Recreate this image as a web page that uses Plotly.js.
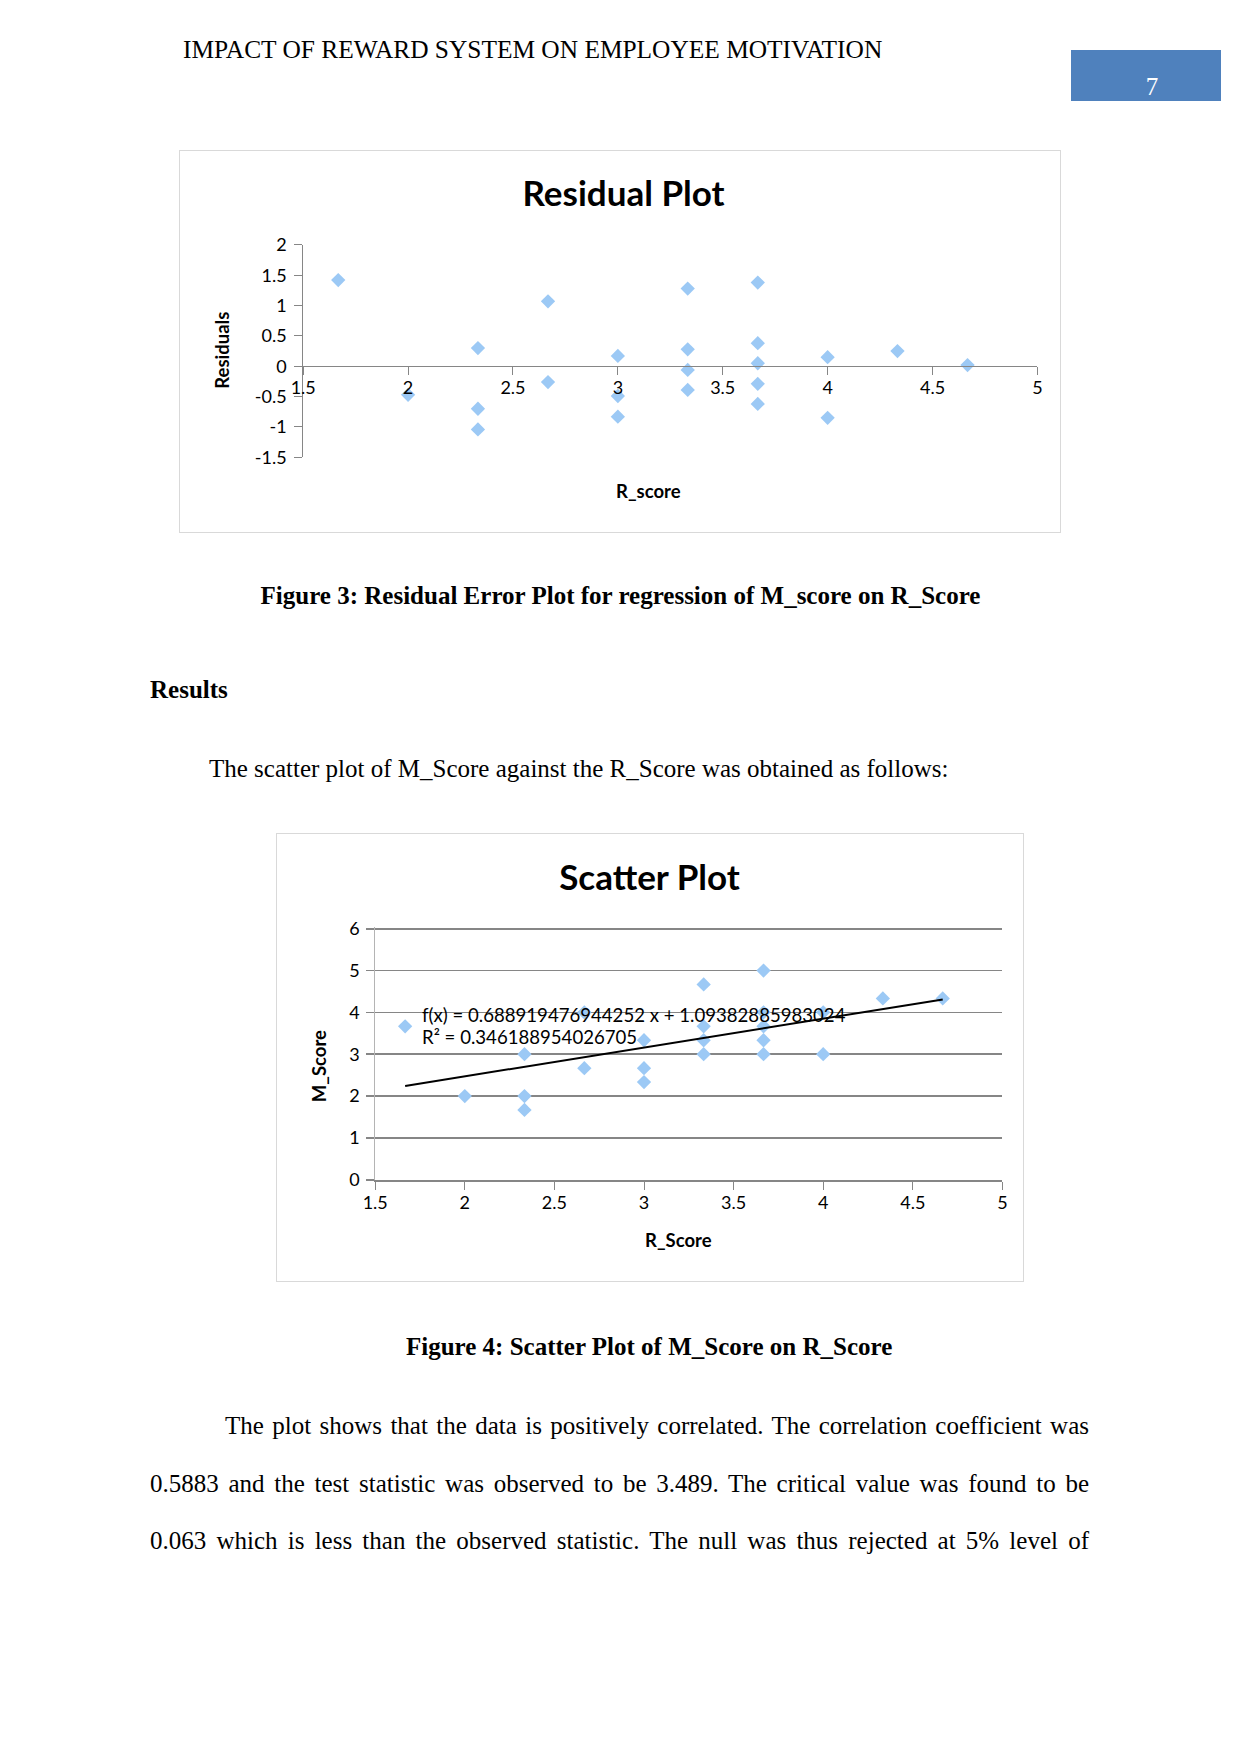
<!DOCTYPE html>
<html><head><meta charset="utf-8">
<script src="https://cdn.plot.ly/plotly-3.0.1.min.js"></script>
<style>
body{margin:0;background:#fff;}
#page{position:relative;width:1241px;height:1754px;background:#fff;font-family:"Liberation Serif","Times New Roman",serif;color:#000;overflow:hidden;}
.t{position:absolute;white-space:nowrap;font-size:25px;line-height:30px;}
.b{font-weight:bold;}
.j{text-align:justify;text-align-last:justify;white-space:normal;}
.frame{position:absolute;border:1px solid #d9d9d9;box-sizing:border-box;background:#fff;}
.chart{position:absolute;}
</style></head>
<body><div id="page">
<div class="t" style="left:183px;top:34px;font-size:25.4px;">IMPACT OF REWARD SYSTEM ON EMPLOYEE MOTIVATION</div>
<div style="position:absolute;left:1071px;top:50px;width:150px;height:51px;background:#4F81BD;"></div>
<div class="t" style="left:1139px;top:72px;width:26px;text-align:center;color:#fff;">7</div>

<div class="frame" style="left:179px;top:150px;width:882px;height:383px;"></div>
<div id="res" class="chart" style="left:179px;top:150px;width:882px;height:383px;"></div>

<div class="t b" style="left:0;top:581px;width:1241px;text-align:center;">Figure 3: Residual Error Plot for regression of M_score on R_Score</div>
<div class="t b" style="left:150px;top:675px;">Results</div>
<div class="t" style="left:209px;top:754px;">The scatter plot of M_Score against the R_Score was obtained as follows:</div>

<div class="frame" style="left:276px;top:833px;width:748px;height:449px;"></div>
<div id="sca" class="chart" style="left:276px;top:833px;width:748px;height:449px;"></div>

<div class="t b" style="left:406px;top:1332px;">Figure 4: Scatter Plot of M_Score on R_Score</div>
<div class="t j" style="left:225px;top:1411px;width:864px;">The plot shows that the data is positively correlated. The correlation coefficient was</div>
<div class="t j" style="left:150px;top:1469px;width:939px;">0.5883 and the test statistic was observed to be 3.489. The critical value was found to be</div>
<div class="t j" style="left:150px;top:1526px;width:939px;">0.063 which is less than the observed statistic. The null was thus rejected at 5% level of</div>
</div>
<script>
// ---- data ----
const rScore = [1.667, 2, 2.333, 2.333, 2.333, 2.667, 2.667, 3, 3, 3, 3.333, 3.333, 3.333, 3.333, 3.667, 3.667, 3.667, 3.667, 3.667, 4, 4, 4.333, 4.667];
const mScore = [3.667, 2, 3, 2, 1.667, 4, 2.667, 3.333, 2.667, 2.333, 4.667, 3.667, 3.333, 3, 5, 4, 3.667, 3.333, 3, 4, 3, 4.333, 4.333];
const residuals = [1.42, -0.47, 0.30, -0.70, -1.04, 1.07, -0.26, 0.17, -0.49, -0.83, 1.28, 0.28, -0.06, -0.39, 1.38, 0.38, 0.05, -0.29, -0.62, 0.15, -0.85, 0.25, 0.02];
const trendX = [1.667, 4.667];
const trendY = [2.24, 4.31];
const xTickVals = [1.5, 2, 2.5, 3, 3.5, 4, 4.5, 5];
const xTickText = ['1.5', '2', '2.5', '3', '3.5', '4', '4.5', '5'];
const resTickVals = [-1.5, -1, -0.5, 0, 0.5, 1, 1.5, 2];
const resTickText = ['-1.5', '-1', '-0.5', '0', '0.5', '1', '1.5', '2'];
const scaTickVals = [0, 1, 2, 3, 4, 5, 6];
const scaTickText = ['0', '1', '2', '3', '4', '5', '6'];
const eqText = 'f(x) = 0.688919476944252 x + 1.09382885983024';
const r2Text = 'R² = 0.346188954026705';

const FONT = 'Lato, "Open Sans", sans-serif';
const MARK = {symbol: 'diamond', size: 11, color: '#9cc9f5', line: {width: 0}};
const TICKFONT = {family: FONT, size: 18, color: '#000'};
const cfg = {staticPlot: true, displayModeBar: false};

// ---- residual plot ----
(function(){
  const W = 882, H = 383;
  const xd = [124.2 / W, 858.4 / W];
  const yd = [1 - 307.3 / H, 1 - 94.9 / H];
  const yr = [-1.5, 2];
  const zeroPos = yd[0] + (0 - yr[0]) / (yr[1] - yr[0]) * (yd[1] - yd[0]);
  const traces = [{x: rScore, y: residuals, type: 'scatter', mode: 'markers', marker: MARK, showlegend: false}];
  const layout = {
    width: W, height: H, margin: {l: 0, r: 0, t: 0, b: 0},
    paper_bgcolor: 'rgba(0,0,0,0)', plot_bgcolor: 'rgba(0,0,0,0)',
    font: {family: FONT, color: '#000', size: 18},
    title: {text: '<b>Residual Plot</b>', font: {family: FONT, size: 35, color: '#000'},
            x: 444.5 / W, xref: 'container', xanchor: 'center', y: 1 - 43.8 / H, yref: 'container', yanchor: 'middle'},
    xaxis: {domain: xd, range: [1.5, 5], anchor: 'free', position: zeroPos,
            tickvals: xTickVals, ticktext: xTickText, ticks: 'outside', ticklen: 8, tickcolor: '#868686',
            ticklabelstandoff: -3,
            showline: true, linecolor: '#868686', linewidth: 1, showgrid: false, zeroline: false,
            tickfont: TICKFONT},
    yaxis: {domain: yd, range: yr, anchor: 'x',
            tickvals: resTickVals, ticktext: resTickText, ticks: 'outside', ticklen: 8, tickcolor: '#868686',
            ticklabelstandoff: 4,
            showline: true, linecolor: '#868686', linewidth: 1, showgrid: false, zeroline: false,
            tickfont: TICKFONT},
    annotations: [
      {text: '<b>Residuals</b>', xref: 'paper', yref: 'paper', x: 42.7 / W, y: 1 - 200 / H, textangle: -90,
       showarrow: false, xanchor: 'center', yanchor: 'middle', font: {family: FONT, size: 18.5, color: '#000'}},
      {text: '<b>R_score</b>', xref: 'paper', yref: 'paper', x: 470 / W, y: 1 - 341 / H,
       showarrow: false, xanchor: 'center', yanchor: 'middle', font: {family: FONT, size: 18.5, color: '#000'}}
    ]
  };
  Plotly.newPlot('res', traces, layout, cfg);
})();

// ---- scatter plot ----
(function(){
  const W = 748, H = 449;
  const yTopVal = 6.03;               // tiny headroom so the gridline at 6 is drawn
  const unit = (346.7 - 95.7) / 6;
  const xd = [99.2 / W, 726.4 / W];
  const yd = [1 - 346.7 / H, 1 - (95.7 - (yTopVal - 6) * unit) / H];
  const traces = [
    {x: rScore, y: mScore, type: 'scatter', mode: 'markers', marker: MARK, showlegend: false},
    {x: trendX, y: trendY, type: 'scatter', mode: 'lines', line: {color: '#000', width: 2}, showlegend: false}
  ];
  const layout = {
    width: W, height: H, margin: {l: 0, r: 0, t: 0, b: 0},
    paper_bgcolor: 'rgba(0,0,0,0)', plot_bgcolor: 'rgba(0,0,0,0)',
    font: {family: FONT, color: '#000', size: 18},
    title: {text: '<b>Scatter Plot</b>', font: {family: FONT, size: 35, color: '#000'},
            x: 373.5 / W, xref: 'container', xanchor: 'center', y: 1 - 44.3 / H, yref: 'container', yanchor: 'middle'},
    xaxis: {domain: xd, range: [1.5, 5], anchor: 'y',
            tickvals: xTickVals, ticktext: xTickText, ticks: 'outside', ticklen: 8, tickcolor: '#868686', tickwidth: 1,
            ticklabelstandoff: -2,
            showline: true, linecolor: '#868686', linewidth: 2, showgrid: false, zeroline: false,
            tickfont: TICKFONT},
    yaxis: {domain: yd, range: [0, yTopVal], anchor: 'x',
            tickvals: scaTickVals, ticktext: scaTickText, ticks: 'outside', ticklen: 8, tickcolor: '#868686', tickwidth: 1.6,
            ticklabelstandoff: 3,
            showline: true, linecolor: '#b4b4b4', linewidth: 1, showgrid: true, gridcolor: '#868686', gridwidth: 1.6, zeroline: false,
            tickfont: TICKFONT},
    annotations: [
      {text: '<b>M_Score</b>', xref: 'paper', yref: 'paper', x: 42.5 / W, y: 1 - 233.7 / H, textangle: -90,
       showarrow: false, xanchor: 'center', yanchor: 'middle', font: {family: FONT, size: 18.5, color: '#000'}},
      {text: '<b>R_Score</b>', xref: 'paper', yref: 'paper', x: 402.6 / W, y: 1 - 407 / H,
       showarrow: false, xanchor: 'center', yanchor: 'middle', font: {family: FONT, size: 18.5, color: '#000'}},
      {text: eqText, xref: 'paper', yref: 'paper', x: 144.3 / W, y: 1 - 182 / H,
       showarrow: false, xanchor: 'left', yanchor: 'middle', font: {family: FONT, size: 18.6, color: '#000'}},
      {text: r2Text, xref: 'paper', yref: 'paper', x: 144.3 / W, y: 1 - 203.7 / H,
       showarrow: false, xanchor: 'left', yanchor: 'middle', font: {family: FONT, size: 18.6, color: '#000'}}
    ]
  };
  Plotly.newPlot('sca', traces, layout, cfg);
})();
</script>
</body></html>
